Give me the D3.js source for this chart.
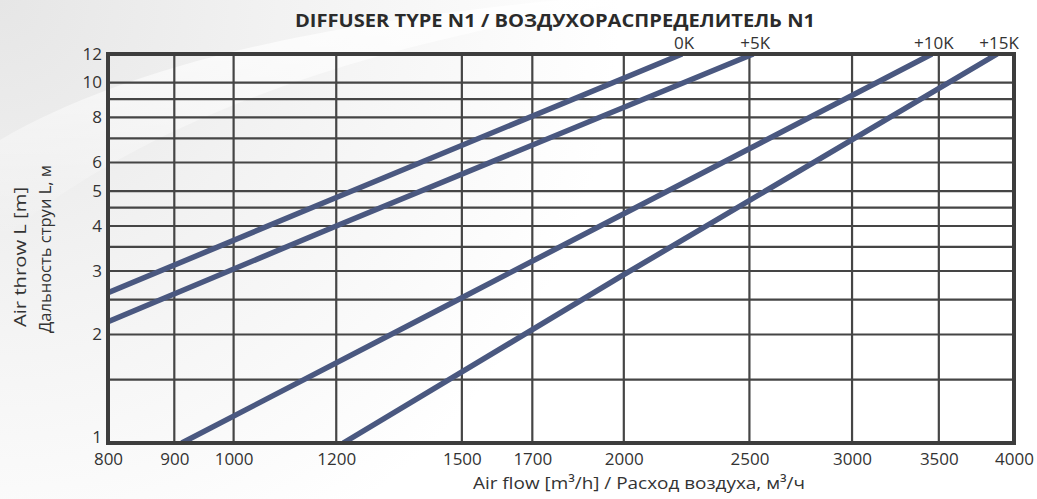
<!DOCTYPE html>
<html><head><meta charset="utf-8">
<script src="https://cdn.jsdelivr.net/npm/d3@7"></script>
<style>
html,body{margin:0;padding:0;background:#fff;}
svg{display:block;font-family:"Open Sans","Noto Sans",sans-serif;}
</style></head>
<body>
<svg id="chart" width="1037" height="499"></svg>
<script>
// ---- data ----
const seriesNames = ["0K", "+5K", "+10K", "+15K"];
const flow0K  = [800, 1200, 2218];
const throw0K = [2.61, 4.8, 12];
const flow5K  = [800, 1200, 2517];
const throw5K = [2.17, 4.0, 12];
const flow10K  = [912, 1500, 3457];
const throw10K = [1, 2.53, 12];
const flow15K  = [1215, 2000, 3882];
const throw15K = [1, 2.93, 12];
const xTicks = [800, 900, 1000, 1200, 1500, 1700, 2000, 2500, 3000, 3500, 4000];
const yTicks = [1, 2, 3, 4, 5, 6, 8, 10, 12];
const yGrid = [1.5, 2, 2.5, 3, 3.5, 4, 4.5, 5, 6, 7, 8, 9, 10];
const xGrid = [900, 1000, 1200, 1500, 1700, 2000, 2500, 3000, 3500];
const titleText = "DIFFUSER TYPE N1 / ВОЗДУХОРАСПРЕДЕЛИТЕЛЬ N1";
const xTitle = "Air flow [m³/h] / Расход воздуха, м³/ч";
const yTitle1 = "Air throw L [m]";
const yTitle2 = "Дальность струи L, м";

const series = [
  {name: seriesNames[0], xs: flow0K, ys: throw0K},
  {name: seriesNames[1], xs: flow5K, ys: throw5K},
  {name: seriesNames[2], xs: flow10K, ys: throw10K},
  {name: seriesNames[3], xs: flow15K, ys: throw15K}
];

// ---- layout ----
const L = 108, R = 1014, T = 54, B = 443;
const svg = d3.select("#chart");
const x = d3.scaleLog().domain([800, 4000]).range([L, R]);
const y = d3.scaleLog().domain([1, 12]).range([B, T]);

// background swoosh
const defs = svg.append("defs");
const g1 = defs.append("radialGradient").attr("id","bg").attr("gradientUnits","userSpaceOnUse")
  .attr("cx",0).attr("cy",0).attr("r",620);
g1.append("stop").attr("offset","0").attr("stop-color","#e6e6e6");
g1.append("stop").attr("offset","0.45").attr("stop-color","#f2f2f2");
g1.append("stop").attr("offset","1").attr("stop-color","#ffffff");
svg.append("rect").attr("width",1037).attr("height",499).attr("fill","url(#bg)");
const g2 = defs.append("linearGradient").attr("id","sw").attr("x1","0").attr("y1","0").attr("x2","0").attr("y2","1");
g2.append("stop").attr("offset","0").attr("stop-color","#ffffff").attr("stop-opacity","0.85");
g2.append("stop").attr("offset","1").attr("stop-color","#ffffff").attr("stop-opacity","0");
svg.append("path").attr("d","M0,140 C120,70 300,25 560,0 L640,0 C400,40 170,100 0,240 Z").attr("fill","url(#sw)");

defs.append("clipPath").attr("id","clip").append("rect")
  .attr("x",L).attr("y",T).attr("width",R-L).attr("height",B-T);

// grid
const grid = svg.append("g").attr("stroke","#454545").attr("stroke-width",2.2);
grid.selectAll("line.v").data(xGrid).join("line").attr("class","v")
  .attr("x1",d=>x(d)).attr("x2",d=>x(d)).attr("y1",T).attr("y2",B);
grid.selectAll("line.h").data(yGrid).join("line").attr("class","h")
  .attr("x1",L).attr("x2",R).attr("y1",d=>y(d)).attr("y2",d=>y(d));

// series lines
const line = d3.line().x(d=>x(d[0])).y(d=>y(d[1]));
svg.append("g").attr("clip-path","url(#clip)")
  .selectAll("path").data(series).join("path")
  .attr("d", s => line(s.xs.map((v,i)=>[v, s.ys[i]])))
  .attr("fill","none").attr("stroke","#4a5880").attr("stroke-width",5.5);

// border
svg.append("rect").attr("x",L).attr("y",T).attr("width",R-L).attr("height",B-T)
  .attr("fill","none").attr("stroke","#3d3d3d").attr("stroke-width",4);

// axes with D3 axis generators (labels only)
const xAxis = d3.axisBottom(x).tickValues(xTicks).tickFormat(d3.format("d")).tickSize(0).tickPadding(0);
const gx = svg.append("g").attr("transform",`translate(0,${B})`).call(xAxis);
gx.select(".domain").remove();
gx.selectAll("text").attr("font-size",17).attr("fill","#333")
  .attr("font-family","'Open Sans',sans-serif").attr("dy",null).attr("y",22);

const yAxis = d3.axisLeft(y).tickValues(yTicks).tickFormat(d3.format("d")).tickSize(0).tickPadding(0);
const gy = svg.append("g").attr("transform",`translate(${L-6},0)`).call(yAxis);
gy.select(".domain").remove();
gy.selectAll("text").attr("font-size",17).attr("fill","#333")
  .attr("font-family","'Open Sans',sans-serif").attr("x",0)
  .attr("dy", d => d === 1 ? "-0.05em" : "0.3em");

// series labels at top end
svg.selectAll("text.sl").data(series).join("text").attr("class","sl")
  .attr("x", s => x(s.xs[s.xs.length-1]) + 2)
  .attr("y", T - 5)
  .attr("text-anchor","middle").attr("font-size",17).attr("fill","#333")
  .text(s => s.name);

// title
svg.append("text").attr("x",555).attr("y",27).attr("text-anchor","middle")
  .attr("font-size",17).attr("font-weight","bold").attr("fill","#2b2b2b")
  .attr("textLength",520).attr("lengthAdjust","spacingAndGlyphs")
  .text(titleText);

// x title
svg.append("text").attr("x",639).attr("y",489).attr("text-anchor","middle")
  .attr("font-size",17).attr("fill","#333")
  .attr("textLength",332).attr("lengthAdjust","spacingAndGlyphs")
  .text(xTitle);

// y titles
svg.append("text").attr("transform","translate(26,257) rotate(-90)").attr("text-anchor","middle")
  .attr("font-size",17).attr("fill","#333")
  .attr("textLength",140).attr("lengthAdjust","spacingAndGlyphs")
  .text(yTitle1);
svg.append("text").attr("transform","translate(51,249) rotate(-90)").attr("text-anchor","middle")
  .attr("font-size",17).attr("fill","#333")
  .attr("textLength",168).attr("lengthAdjust","spacingAndGlyphs")
  .text(yTitle2);
</script>
</body></html>
